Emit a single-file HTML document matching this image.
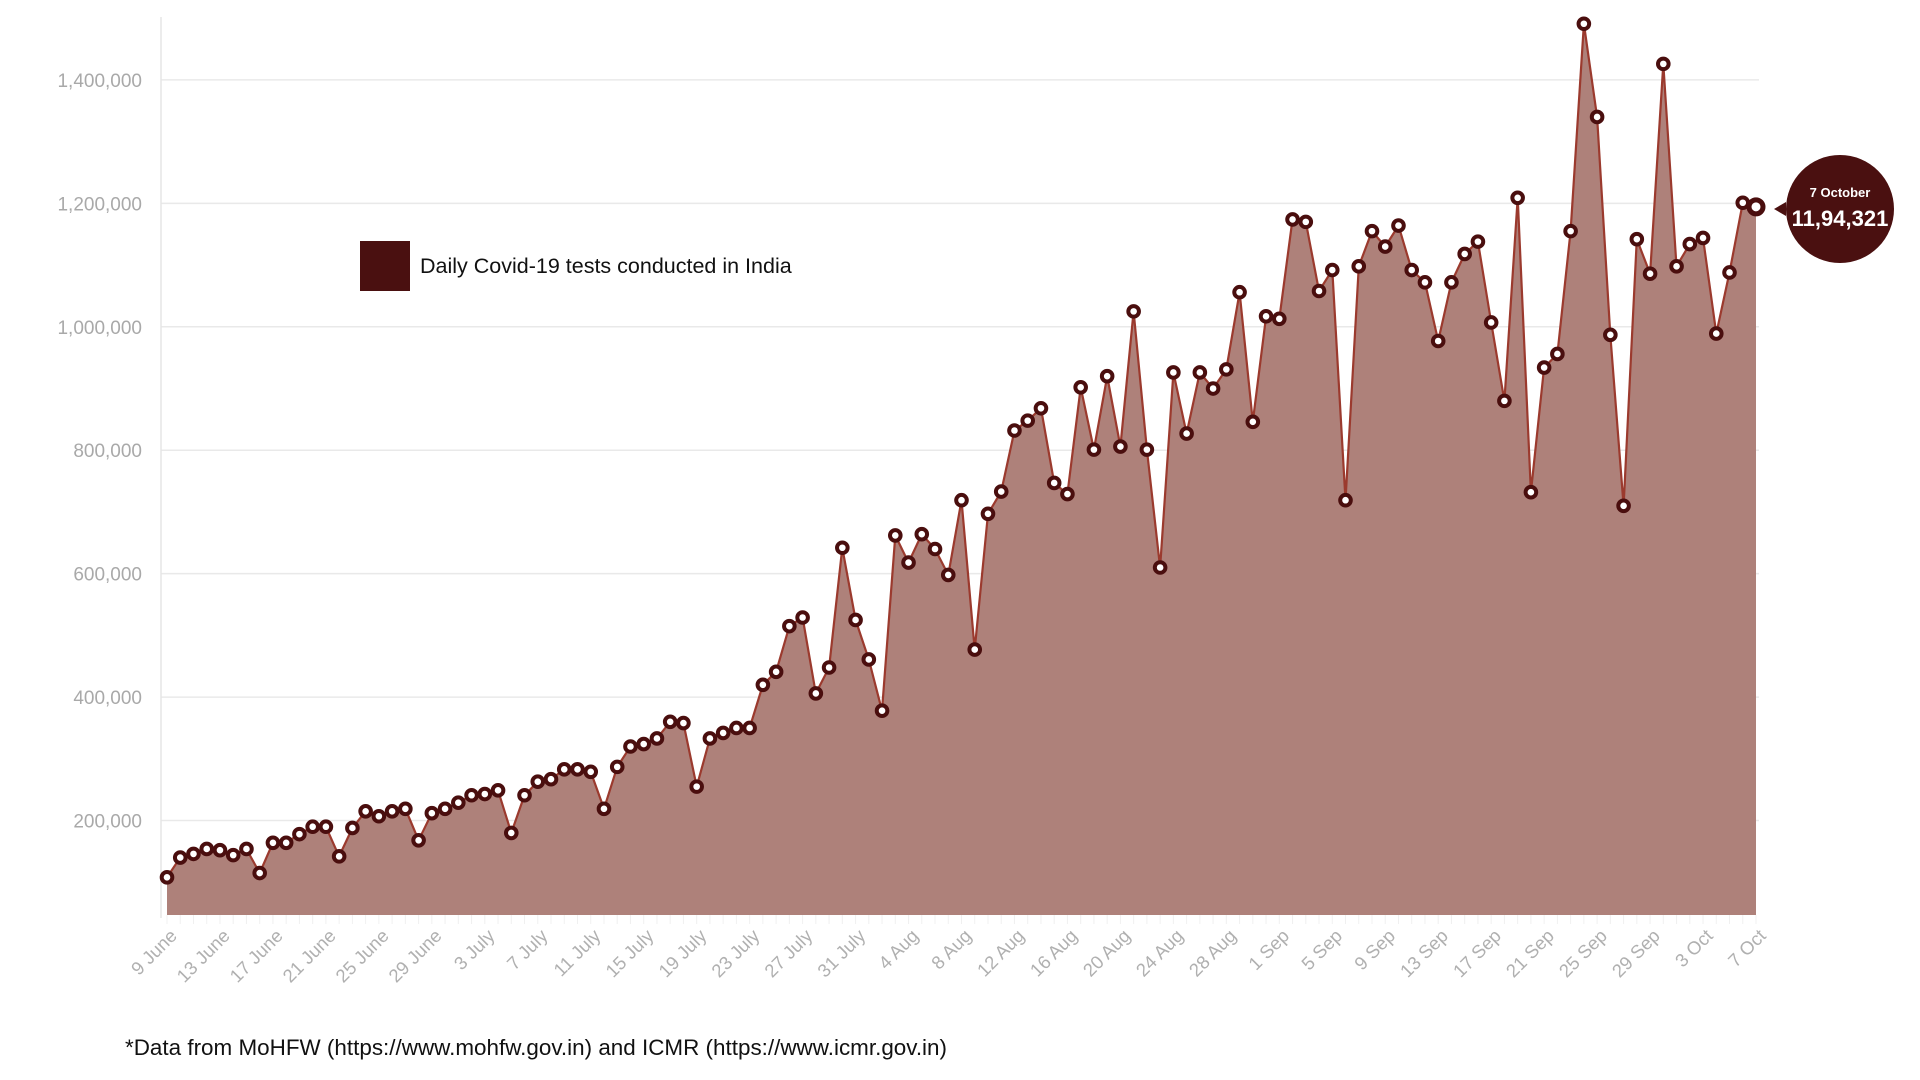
<!DOCTYPE html>
<html><head><meta charset="utf-8"><style>
html,body{margin:0;padding:0;background:#fff;width:1920px;height:1080px;overflow:hidden}
svg{display:block}
text{font-family:"Liberation Sans",sans-serif}
</style></head><body>
<svg id="chart" width="1920" height="1080" viewBox="0 0 1920 1080" xmlns="http://www.w3.org/2000/svg">
<g id="grid"></g>
<line x1="161" y1="17" x2="161" y2="918" stroke="#e6e6e6" stroke-width="1.5"/>
<g id="yticks"></g>
<g id="xticks"></g>
<path id="area" fill="#ae817a" stroke="none"/>
<path id="line" fill="none" stroke="#9b3a2e" stroke-width="2.2" stroke-linejoin="round"/>
<g id="dots"></g>
<g>
<rect x="360" y="241" width="50" height="50" fill="#4a1010"/>
<text x="420" y="273" font-size="21.5" fill="#111">Daily Covid-19 tests conducted in India</text>
</g>
<g id="callout">
<polygon points="1774,209 1786,202 1786,216" fill="#4a1010"/>
<circle cx="1840" cy="209" r="54" fill="#4a1010"/>
<text x="1840" y="197" font-size="13" font-weight="bold" fill="#fff" text-anchor="middle">7 October</text>
<text x="1840" y="226" font-size="22" font-weight="bold" fill="#fff" text-anchor="middle">11,94,321</text>
</g>
<text x="125" y="1055" font-size="22" textLength="822" lengthAdjust="spacingAndGlyphs" fill="#111">*Data from MoHFW (https://www.mohfw.gov.in) and ICMR (https://www.icmr.gov.in)</text>
</svg>
<script>
const yTicks = [200000,400000,600000,800000,1000000,1200000,1400000];
const yTickLabels = ["200,000","400,000","600,000","800,000","1,000,000","1,200,000","1,400,000"];
const xLabels = ["9 June","13 June","17 June","21 June","25 June","29 June","3 July","7 July","11 July","15 July","19 July","23 July","27 July","31 July","4 Aug","8 Aug","12 Aug","16 Aug","20 Aug","24 Aug","28 Aug","1 Sep","5 Sep","9 Sep","13 Sep","17 Sep","21 Sep","25 Sep","29 Sep","3 Oct","7 Oct"];
const tests = [108000,140000,146000,154000,152000,144000,154000,115000,164000,164000,178000,190000,190000,142000,188000,215000,207000,215000,219000,168000,212000,219000,229000,241000,243000,249000,180000,241000,263000,267000,283000,283000,279000,219000,287000,320000,324000,333000,360000,358000,255000,333000,342000,350000,350000,420000,441000,515000,529000,406000,448000,642000,525000,461000,378000,662000,618000,664000,640000,598000,719000,477000,697000,733000,832000,848000,868000,747000,729000,902000,801000,920000,806000,1025000,801000,610000,926000,827000,926000,900000,931000,1056000,846000,1017000,1013000,1174000,1170000,1058000,1092000,719000,1098000,1155000,1130000,1164000,1092000,1072000,977000,1072000,1118000,1138000,1007000,880000,1209000,732000,934000,956000,1155000,1491000,1340000,987000,710000,1142000,1086000,1426000,1098000,1134000,1144000,989000,1088000,1201000,1194321];

const NS="http://www.w3.org/2000/svg";
const X0=167, X1=1756, Y0=944, PXPERV=617.2e-6, BASE=915;
const n=tests.length;
const xs=i=>X0+(X1-X0)*i/(n-1);
const ys=v=>Y0-v*PXPERV;
function mk(tag,attrs,parent){const e=document.createElementNS(NS,tag);for(const k in attrs)e.setAttribute(k,attrs[k]);parent.appendChild(e);return e;}

const grid=document.getElementById('grid'), yt=document.getElementById('yticks'), xt=document.getElementById('xticks');
yTicks.forEach((v,i)=>{
  const l=mk('line',{x1:161,x2:1759,y1:ys(v),y2:ys(v),stroke:'#e9e9e9','stroke-width':1.5},grid);
  
  
  const t=mk('text',{x:142,y:ys(v)+7,'font-size':19,fill:'#a9a9a9','text-anchor':'end'},yt);
  
  
  t.textContent=yTickLabels[i];
});
for(let i=0;i<n;i++){
  const l=mk('line',{x1:xs(i),x2:xs(i),y1:BASE,y2:BASE+9,stroke:'#f0f0f0','stroke-width':1},xt);
  
  
}
xLabels.forEach((lab,k)=>{
  const x=xs(k*4)+11, y=937;
  const t=mk('text',{x:x,y:y,'font-size':18.5,fill:'#b0b0b0','text-anchor':'end',transform:`rotate(-45 ${x} ${y})`},xt);
  
  
  t.textContent=lab;
});
let d='';
tests.forEach((v,i)=>{d+=(i?'L':'M')+xs(i).toFixed(1)+','+ys(v).toFixed(1);});
document.getElementById('line').setAttribute('d',d);
document.getElementById('area').setAttribute('d',d+`L${xs(n-1)},${BASE}L${xs(0)},${BASE}Z`);
const dots=document.getElementById('dots');
tests.forEach((v,i)=>{
  const last=i===n-1;
  const c=mk('circle',{cx:xs(i),cy:ys(v),r:last?7:5.3,fill:'#fff',stroke:'#4a0e0e','stroke-width':last?5:4},dots);
  
  
});
</script>
</body></html>
